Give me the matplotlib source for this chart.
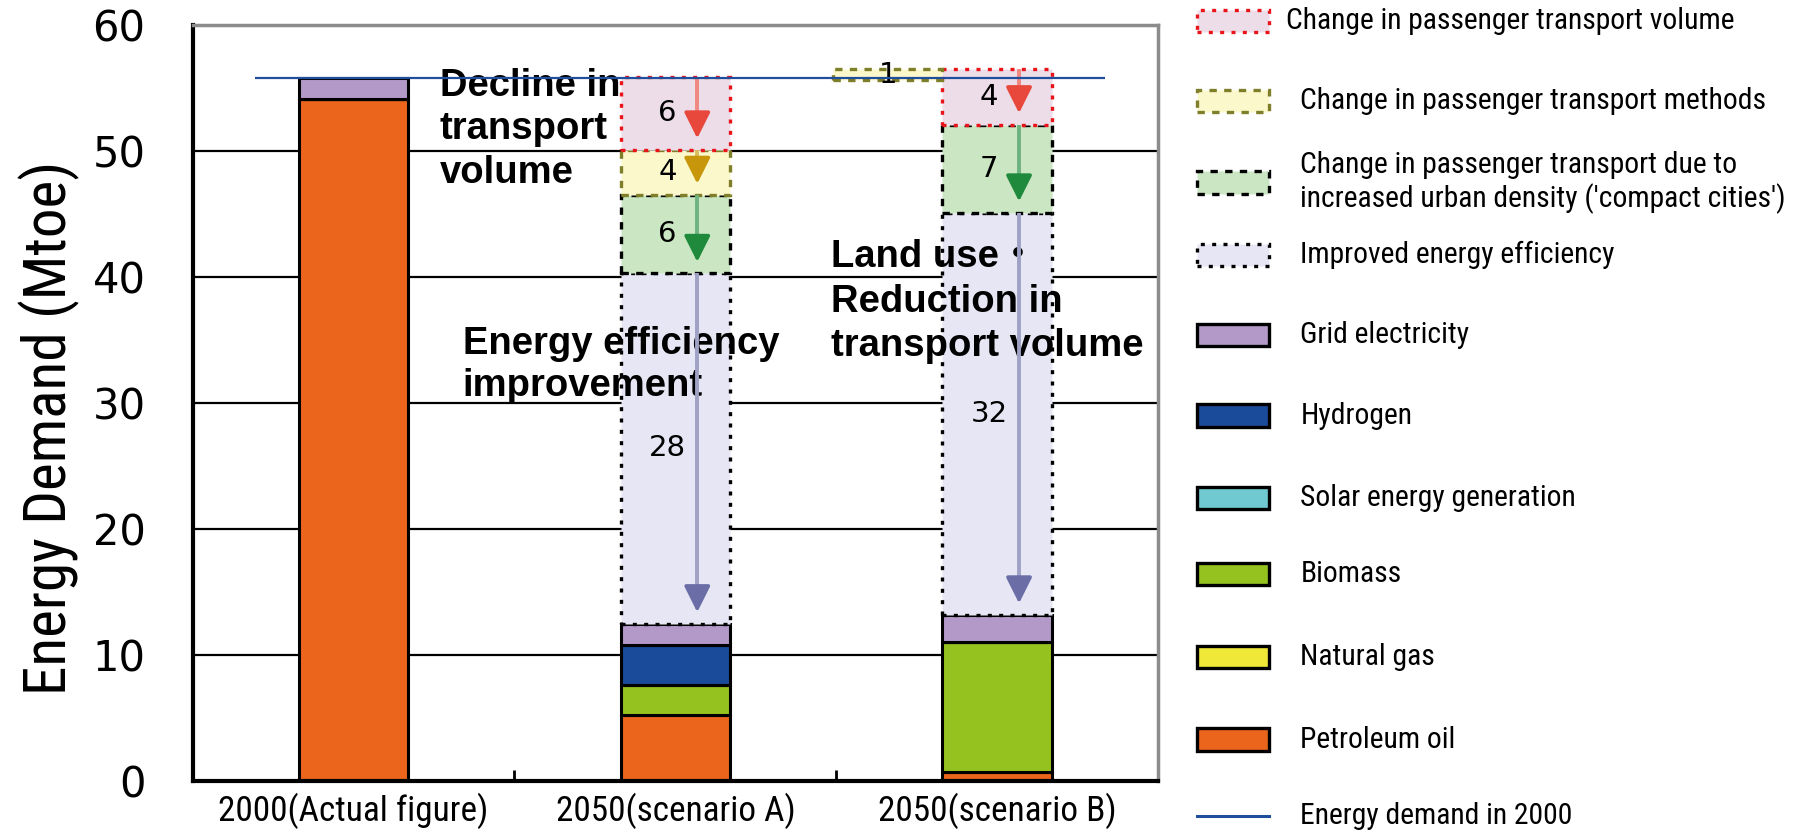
import matplotlib
matplotlib.use('Agg')
import matplotlib.pyplot as plt
import matplotlib.patches as mpatches
import matplotlib.lines as mlines
import matplotlib.font_manager as fm
from matplotlib.font_manager import FontProperties
from matplotlib.colors import to_rgb
from matplotlib.transforms import ScaledTranslation

# supply mix per bar (Mtoe)
categories = ['2000(Actual figure)', '2050(scenario A)', '2050(scenario B)']
petroleum = [54.1, 5.2, 0.7]
natural_gas = [0.0, 0.0, 0.0]
biomass = [0.0, 2.4, 10.3]
solar = [0.0, 0.0, 0.0]
hydrogen = [0.0, 3.2, 0.0]
grid_elec = [1.7, 1.7, 2.2]

# demand reductions for the 2050 scenarios (index 1 and 2)
scen_idx = [1, 2]
efficiency = [27.8, 31.9]
compact = [6.2, 7.0]
methods = [3.6, 0.9]
volume = [5.8, 4.4]

C_PETRO = '#eb661c'
C_GAS = '#f0e838'
C_BIO = '#95c21e'
C_SOLAR = '#70c8d0'
C_H2 = '#1a4a9a'
C_GRID = '#b399c8'
C_LINE = '#1f4e9c'

F_VOL = '#ecdde8'
F_METH = '#fbf8cc'
F_COMP = '#cbe6c3'
F_EFF = '#e6e6f4'
E_VOL = '#e8141a'
E_METH = '#7f7f2a'

A_RED = '#e8473c'
A_GOLD = '#c8960a'
A_GREEN = '#1f8a3c'
A_BLUE = '#6b6ea6'

DOT = (0, (1.2, 2.2))
DASH = (0, (2.2, 2.2))

BW = 0.34
SANS = 'Liberation Sans'


def pick_narrow():
    pref = ['Liberation', 'Roboto', 'Open Sans', 'DejaVu', 'Noto']
    found = []
    for f in fm.fontManager.ttflist:
        narrow = ('Narrow' in f.name or 'Condensed' in f.name
                  or str(f.stretch) in ('condensed', 'semi-condensed'))
        if narrow and f.style == 'normal' and f.weight in (400, 'normal', 'regular', 'book'):
            rank = next((k for k, p in enumerate(pref) if p in f.name), len(pref))
            found.append((rank, f.fname))
    if found:
        return FontProperties(fname=sorted(found)[0][1])
    return FontProperties(family=SANS)


NARROW_FP = pick_narrow()

fig = plt.figure(figsize=(18.01, 8.33), dpi=100, facecolor='white')
ax = fig.add_axes([0.107, 0.0624, 0.536, 0.9076])
ax.set_xlim(-0.5, 2.5)
ax.set_ylim(0, 60)


def narrow(size):
    fp = NARROW_FP.copy()
    fp.set_size(size)
    return fp


def fit_size(text, width_px):
    probe = fig.text(0, 0, text, fontproperties=narrow(50))
    w = probe.get_window_extent(fig.canvas.get_renderer()).width
    probe.remove()
    return 50 * width_px / w


def lighten(col, amt=0.35):
    r, g, b = to_rgb(col)
    return (r + (1 - r) * amt, g + (1 - g) * amt, b + (1 - b) * amt)


LEG_SIZE = fit_size('Change in passenger transport volume', 450)
YLAB_SIZE = fit_size('Energy Demand (Mtoe)', 534)
XTICK_SIZE = fit_size('2000(Actual figure)', 270)

x = list(range(len(categories)))

# stacked supply bars
bottom = [0.0] * 3
for vals, col in [(petroleum, C_PETRO), (natural_gas, C_GAS), (biomass, C_BIO),
                  (solar, C_SOLAR), (hydrogen, C_H2), (grid_elec, C_GRID)]:
    ax.bar(x, vals, BW, bottom=bottom, color=col, edgecolor='black',
           linewidth=2.2, zorder=2)
    bottom = [b + v for b, v in zip(bottom, vals)]
supply_total = bottom
demand_2000 = supply_total[0]


def region(xc, y0, h, face, edge, ls, label, arrow_col, label_dx=-0.025):
    ax.bar(xc, h, BW, bottom=y0, color=face, edgecolor=edge,
           linestyle=ls, linewidth=2.4, zorder=2)
    ax.text(xc + label_dx, y0 + h / 2, f'{label:.0f}', ha='center', va='center',
            fontsize=21, family='DejaVu Sans', color='black', zorder=6)
    if arrow_col is not None:
        ax_x = xc + 0.068
        tip = y0 + 0.9
        # pale shaft, solid head
        ax.plot([ax_x, ax_x], [y0 + h, tip + 1.2], color=lighten(arrow_col),
                lw=2.8, solid_capstyle='butt', zorder=5)
        ax.annotate('', xy=(ax_x, tip), xytext=(ax_x, tip + 1.9),
                    arrowprops=dict(arrowstyle='-|>,head_length=1.0,head_width=0.5',
                                    color=arrow_col, lw=2.6, mutation_scale=16,
                                    shrinkA=0, shrinkB=0),
                    zorder=5)


# scenario A: efficiency, compact city, methods, volume stacked upward
i = scen_idx[0]
y = supply_total[i]
region(i, y, efficiency[0], F_EFF, 'black', DOT, efficiency[0], A_BLUE)
y += efficiency[0]
region(i, y, compact[0], F_COMP, 'black', DASH, compact[0], A_GREEN)
y += compact[0]
region(i, y, methods[0], F_METH, E_METH, DASH, methods[0], A_GOLD)
y += methods[0]
region(i, y, volume[0], F_VOL, E_VOL, DOT, volume[0], A_RED)

# scenario B: methods change adds demand, shown beside the bar
i = scen_idx[1]
y = supply_total[i]
region(i, y, efficiency[1], F_EFF, 'black', DOT, efficiency[1], A_BLUE)
y += efficiency[1]
region(i, y, compact[1], F_COMP, 'black', DASH, compact[1], A_GREEN)
y += compact[1]
region(i, y, volume[1], F_VOL, E_VOL, DOT, volume[1], A_RED)
y += volume[1]
region(i - BW, y - methods[1], methods[1], F_METH, E_METH, DASH, methods[1], None,
       label_dx=0.0)

# 2000 demand reference line
ax.hlines(demand_2000, -0.307, 2.336, color=C_LINE, lw=1.6, zorder=7)

# annotations
ann = dict(fontsize=27.5, fontweight='bold', color='black', ha='left', va='top',
           family=[SANS, 'Noto Sans CJK JP'], zorder=3)
ax.text(0.268, 56.6, 'Decline in\ntransport\nvolume', linespacing=1.27, **ann)
ax.text(0.339, 36.15, 'Energy efficiency\nimprovement', linespacing=1.22, **ann)
ax.text(1.485, 43.0, 'Land use\u30fb\nReduction in\ntransport volume',
        linespacing=1.3, **ann)

# axes styling
ax.set_yticks(range(0, 61, 10))
ax.yaxis.grid(True, color='black', linewidth=1.6, zorder=0)
ax.set_axisbelow(True)
ax.tick_params(axis='y', length=0, pad=34, labelsize=30)
for t in ax.get_yticklabels():
    t.set_family('DejaVu Sans')
ax.set_xticks(x)
ax.set_xticklabels(categories)
for t in ax.get_xticklabels():
    t.set_fontproperties(narrow(XTICK_SIZE))
first = ax.get_xticklabels()[0]
first.set_transform(first.get_transform() + ScaledTranslation(0.16, 0, fig.dpi_scale_trans))
ax.tick_params(axis='x', length=0, pad=8)
ax.set_xticks([0.5, 1.5], minor=True)
ax.tick_params(axis='x', which='minor', direction='in', length=8, width=2)

ax.set_ylabel('Energy Demand (Mtoe)', fontproperties=narrow(YLAB_SIZE))
ax.yaxis.set_label_coords(-0.117, 0.467)

for side in ['left', 'bottom']:
    ax.spines[side].set_color('black')
    ax.spines[side].set_linewidth(3)
for side in ['top', 'right']:
    ax.spines[side].set_color('#8c8c8c')
    ax.spines[side].set_linewidth(2.5)

# legend, drawn in figure coordinates
leg_items = [
    ('Change in passenger transport volume', F_VOL, E_VOL, DOT, 0.975, 0.714),
    ('Change in passenger transport methods', F_METH, E_METH, DASH, 0.879, 0.722),
    ("Change in passenger transport due to\nincreased urban density ('compact cities')",
     F_COMP, 'black', DASH, 0.781, 0.722),
    ('Improved energy efficiency', F_EFF, 'black', DOT, 0.694, 0.722),
    ('Grid electricity', C_GRID, 'black', '-', 0.598, 0.722),
    ('Hydrogen', C_H2, 'black', '-', 0.501, 0.722),
    ('Solar energy generation', C_SOLAR, 'black', '-', 0.402, 0.722),
    ('Biomass', C_BIO, 'black', '-', 0.311, 0.722),
    ('Natural gas', C_GAS, 'black', '-', 0.211, 0.722),
    ('Petroleum oil', C_PETRO, 'black', '-', 0.112, 0.722),
]
pw, ph = 0.040, 0.027
for label, face, edge, ls, yc, tx in leg_items:
    fig.patches.append(mpatches.Rectangle((0.6645, yc - ph / 2), pw, ph,
                                          transform=fig.transFigure, facecolor=face,
                                          edgecolor=edge, linestyle=ls, linewidth=2.4))
    fig.text(tx, yc, label, fontproperties=narrow(LEG_SIZE), va='center', ha='left',
             linespacing=1.15)
fig.lines.append(mlines.Line2D([0.6645, 0.6645 + pw], [0.021, 0.021],
                               transform=fig.transFigure, color=C_LINE, lw=2.2))
fig.text(0.722, 0.021, 'Energy demand in 2000', fontproperties=narrow(LEG_SIZE),
         va='center', ha='left')

fig.savefig('out.png', dpi=100, facecolor='white')
